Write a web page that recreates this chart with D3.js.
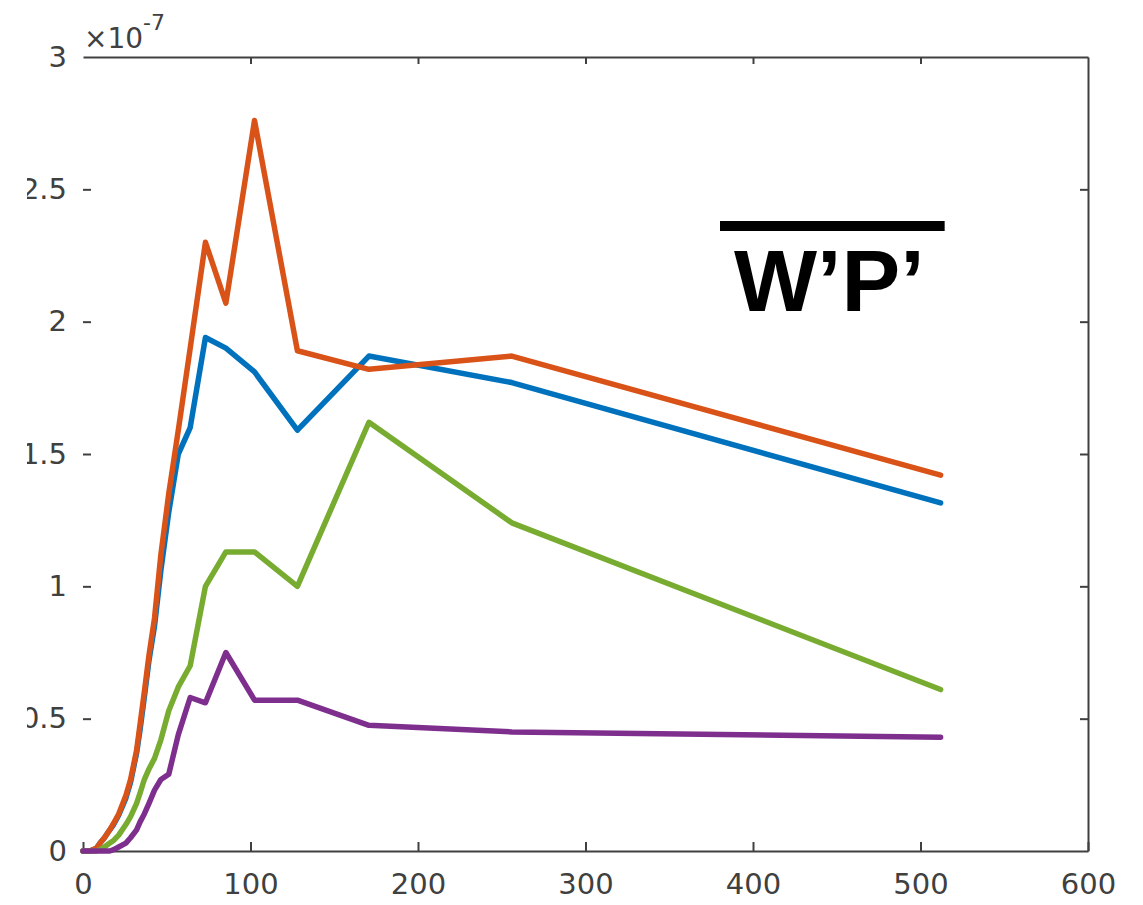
<!DOCTYPE html>
<html>
<head>
<meta charset="utf-8">
<script src="https://cdn.jsdelivr.net/npm/d3@7"></script>
<style>
  body { margin: 0; background: #fff; }
  svg { display: block; }
</style>
</head>
<body>
<div id="chart"></div>
<script>
// x positions (512/n samples), values in units of 1e-7
var xs = [0, 4, 8, 10.2, 12.8, 16, 18.3, 21.3, 25.6, 28.4, 32, 34.1, 36.6, 39.4, 42.7, 46.5, 51.2, 56.9, 64, 73.1, 85.3, 102.4, 128, 170.7, 256, 512];
var blueVals   = [0, 0, 0.01, 0.03, 0.05, 0.08, 0.10, 0.135, 0.20, 0.26, 0.37, 0.46, 0.58, 0.72, 0.85, 1.06, 1.28, 1.50, 1.60, 1.94, 1.90, 1.81, 1.59, 1.87, 1.77, 1.315];
var orangeVals = [0, 0, 0.01, 0.03, 0.05, 0.08, 0.105, 0.14, 0.21, 0.27, 0.38, 0.48, 0.60, 0.74, 0.88, 1.12, 1.35, 1.59, 1.90, 2.30, 2.07, 2.76, 1.89, 1.82, 1.87, 1.42];
var greenVals  = [0, 0, 0, 0.005, 0.015, 0.03, 0.04, 0.06, 0.10, 0.13, 0.18, 0.22, 0.27, 0.31, 0.35, 0.42, 0.53, 0.62, 0.70, 1.00, 1.13, 1.13, 1.00, 1.62, 1.24, 0.61];
var purpleVals = [0, 0, 0, 0, 0, 0, 0.005, 0.015, 0.03, 0.05, 0.08, 0.11, 0.14, 0.18, 0.23, 0.27, 0.29, 0.44, 0.58, 0.56, 0.75, 0.57, 0.57, 0.475, 0.45, 0.43];

var xTicks = [0, 100, 200, 300, 400, 500, 600];
var yTicks = [0, 0.5, 1, 1.5, 2, 2.5, 3];
var colors = ["#0072BD", "#D95319", "#77AC30", "#7E2F8E"];

var width = 1143, height = 905;
var plotLeft = 83, plotRight = 1088, plotTop = 57, plotBottom = 851;
var axisColor = "#404040";

var svg = d3.select("#chart").append("svg")
  .attr("width", width)
  .attr("height", height);

var x = d3.scaleLinear().domain([0, 600]).range([plotLeft, plotRight]);
var y = d3.scaleLinear().domain([0, 3]).range([plotBottom, plotTop]);

// clip for the left tick labels (the reference is cut at the left)
svg.append("clipPath").attr("id", "leftclip")
  .append("rect").attr("x", 27 - plotLeft).attr("y", 0).attr("width", 200).attr("height", height);

function styleAxis(g) {
  g.selectAll("path.domain").attr("stroke", axisColor).attr("stroke-width", 2);
  g.selectAll(".tick line").attr("stroke", axisColor).attr("stroke-width", 2);
  g.selectAll(".tick text")
    .attr("fill", axisColor)
    .style("font-family", "'DejaVu Sans', sans-serif")
    .style("font-size", "29px");
}

// bottom axis
svg.append("g")
  .attr("transform", "translate(0," + plotBottom + ")")
  .call(d3.axisBottom(x).tickValues(xTicks).tickSizeInner(-9).tickSizeOuter(0).tickPadding(22))
  .call(styleAxis);

// top frame
svg.append("g")
  .attr("transform", "translate(0," + plotTop + ")")
  .call(d3.axisTop(x).tickValues(xTicks.slice(1, -1)).tickSizeInner(-7).tickSizeOuter(0).tickFormat(""))
  .call(styleAxis);

// right frame
svg.append("g")
  .attr("transform", "translate(" + plotRight + ",0)")
  .call(d3.axisRight(y).tickValues(yTicks.slice(1, -1)).tickSizeInner(-8).tickSizeOuter(0).tickFormat(""))
  .call(styleAxis);

// left ticks and labels, no spine
var yAxis = svg.append("g")
  .attr("transform", "translate(" + plotLeft + ",0)")
  .attr("clip-path", "url(#leftclip)")
  .call(d3.axisLeft(y).tickValues(yTicks).tickSizeInner(-8).tickSizeOuter(0).tickPadding(16)
    .tickFormat(function(d) { return String(d); }))
  .call(styleAxis);
yAxis.select("path.domain").remove();
yAxis.selectAll(".tick").filter(function(d) { return d === 0 || d === 3; }).select("line").remove();

// exponent label
var expo = svg.append("text")
  .attr("x", 84)
  .attr("y", 48)
  .attr("fill", axisColor)
  .style("font-family", "'DejaVu Sans', sans-serif")
  .style("font-size", "28px")
  .text("\u00d710");
expo.append("tspan")
  .attr("dy", -18)
  .style("font-size", "22px")
  .text("-7");

// lines
var series = [blueVals, orangeVals, greenVals, purpleVals];
var line = d3.line()
  .x(function(d, i) { return x(xs[i]); })
  .y(function(d) { return y(d); });

svg.append("g")
  .selectAll("path")
  .data(series)
  .enter()
  .append("path")
  .attr("d", line)
  .attr("fill", "none")
  .attr("stroke", function(d, i) { return colors[i]; })
  .attr("stroke-width", 5.5)
  .attr("stroke-linejoin", "round")
  .attr("stroke-linecap", "round");

// annotation: W'P' with overbar
var label = svg.append("text")
  .attr("x", 734)
  .attr("y", 311)
  .attr("fill", "#000")
  .style("font-family", "'Liberation Sans', Arial, sans-serif")
  .style("font-weight", "bold")
  .style("font-size", "88px")
  .text("W\u2019P\u2019");

var bb = label.node().getBBox();
svg.append("line")
  .attr("x1", bb.x - 14)
  .attr("x2", bb.x + bb.width + 20)
  .attr("y1", 226)
  .attr("y2", 226)
  .attr("stroke", "#000")
  .attr("stroke-width", 10);
</script>
</body>
</html>
